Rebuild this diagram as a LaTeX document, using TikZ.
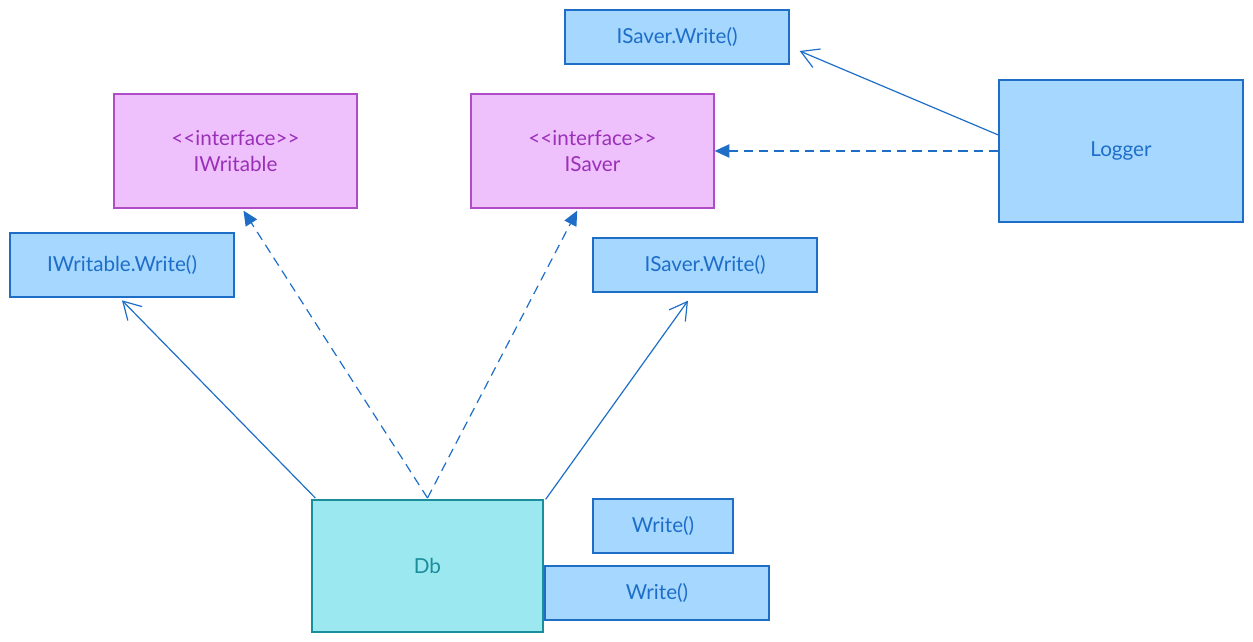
\documentclass[tikz,border=0pt]{standalone}
\usepackage{fontspec}
\setmainfont{Lato}
\usetikzlibrary{arrows.meta}

\definecolor{BoxBlue}{HTML}{A6D8FF}
\definecolor{LineBlue}{HTML}{1E6EC8}
\definecolor{BoxPurple}{HTML}{EEC0FC}
\definecolor{LinePurple}{HTML}{B04CC8}
\definecolor{TextPurple}{HTML}{9B30B8}
\definecolor{BoxTeal}{HTML}{9BE8F0}
\definecolor{LineTeal}{HTML}{1A8E9A}

\begin{document}
\begin{tikzpicture}[x=0.75pt, y=-0.75pt,
	every node/.style={font=\fontsize{15.5}{19}\selectfont, align=center, inner sep=0pt},
	method/.style={draw=LineBlue, line width=1pt, fill=BoxBlue, text=LineBlue, minimum height=40.5pt},
	iface/.style={draw=LinePurple, line width=1pt, fill=BoxPurple, text=TextPurple, minimum width=182.25pt, minimum height=85.5pt},
	impl/.style={dashed, dash pattern=on 7pt off 4.5pt, line width=0.9pt, draw=LineBlue, -{Triangle[length=11pt, width=10pt]}},
	assoc/.style={line width=0.9pt, draw=LineBlue, -{Straight Barb[length=13pt, width=15pt, line width=0.9pt]}}]
	\useasboundingbox (0,0) rectangle (1253,642);

	\node[method, minimum width=168pt] (iswriteA) at (677,37) {ISaver.Write()};
	\node[iface] (iwritable) at (235.5,151) {{<}{<}interface{>}{>}\\[1pt]IWritable};
	\node[iface] (isaver) at (592.5,151) {{<}{<}interface{>}{>}\\[1pt]ISaver};
	\node[method, minimum width=183pt, minimum height=106.5pt] (logger) at (1121,151) {Logger};
	\node[method, minimum width=168pt, minimum height=48pt] (iwwrite) at (122,265) {IWritable.Write()};
	\node[method, minimum width=168pt] (iswriteB) at (705,265) {ISaver.Write()};
	\node[draw=LineTeal, line width=1pt, fill=BoxTeal, text=LineTeal, minimum width=173.25pt, minimum height=99pt] (db) at (427.5,566) {Db};
	\node[method, minimum width=105pt] (writeA) at (663,526) {Write()};
	\node[method, minimum width=168pt] (writeB) at (657,593) {Write()};

	\draw[assoc] ([xshift=3pt, yshift=1pt]db.north west) -- ([yshift=-2pt]iwwrite.south);
	\draw[impl] ([yshift=1pt]db.north) -- ([xshift=6pt, yshift=-1.5pt]iwritable.south);
	\draw[impl] ([yshift=1pt]db.north) -- ([xshift=-11.5pt, yshift=-1.5pt]isaver.south);
	\draw[assoc] ([xshift=1.5pt]db.north east) -- ([xshift=-12.75pt, yshift=-6pt]iswriteB.south);
	\draw[assoc] ([yshift=12pt]logger.west) -- ([xshift=7.5pt, yshift=-10.5pt]iswriteA.east);
	\draw[impl] (logger.west) -- (isaver.east);

\end{tikzpicture}
\end{document}
